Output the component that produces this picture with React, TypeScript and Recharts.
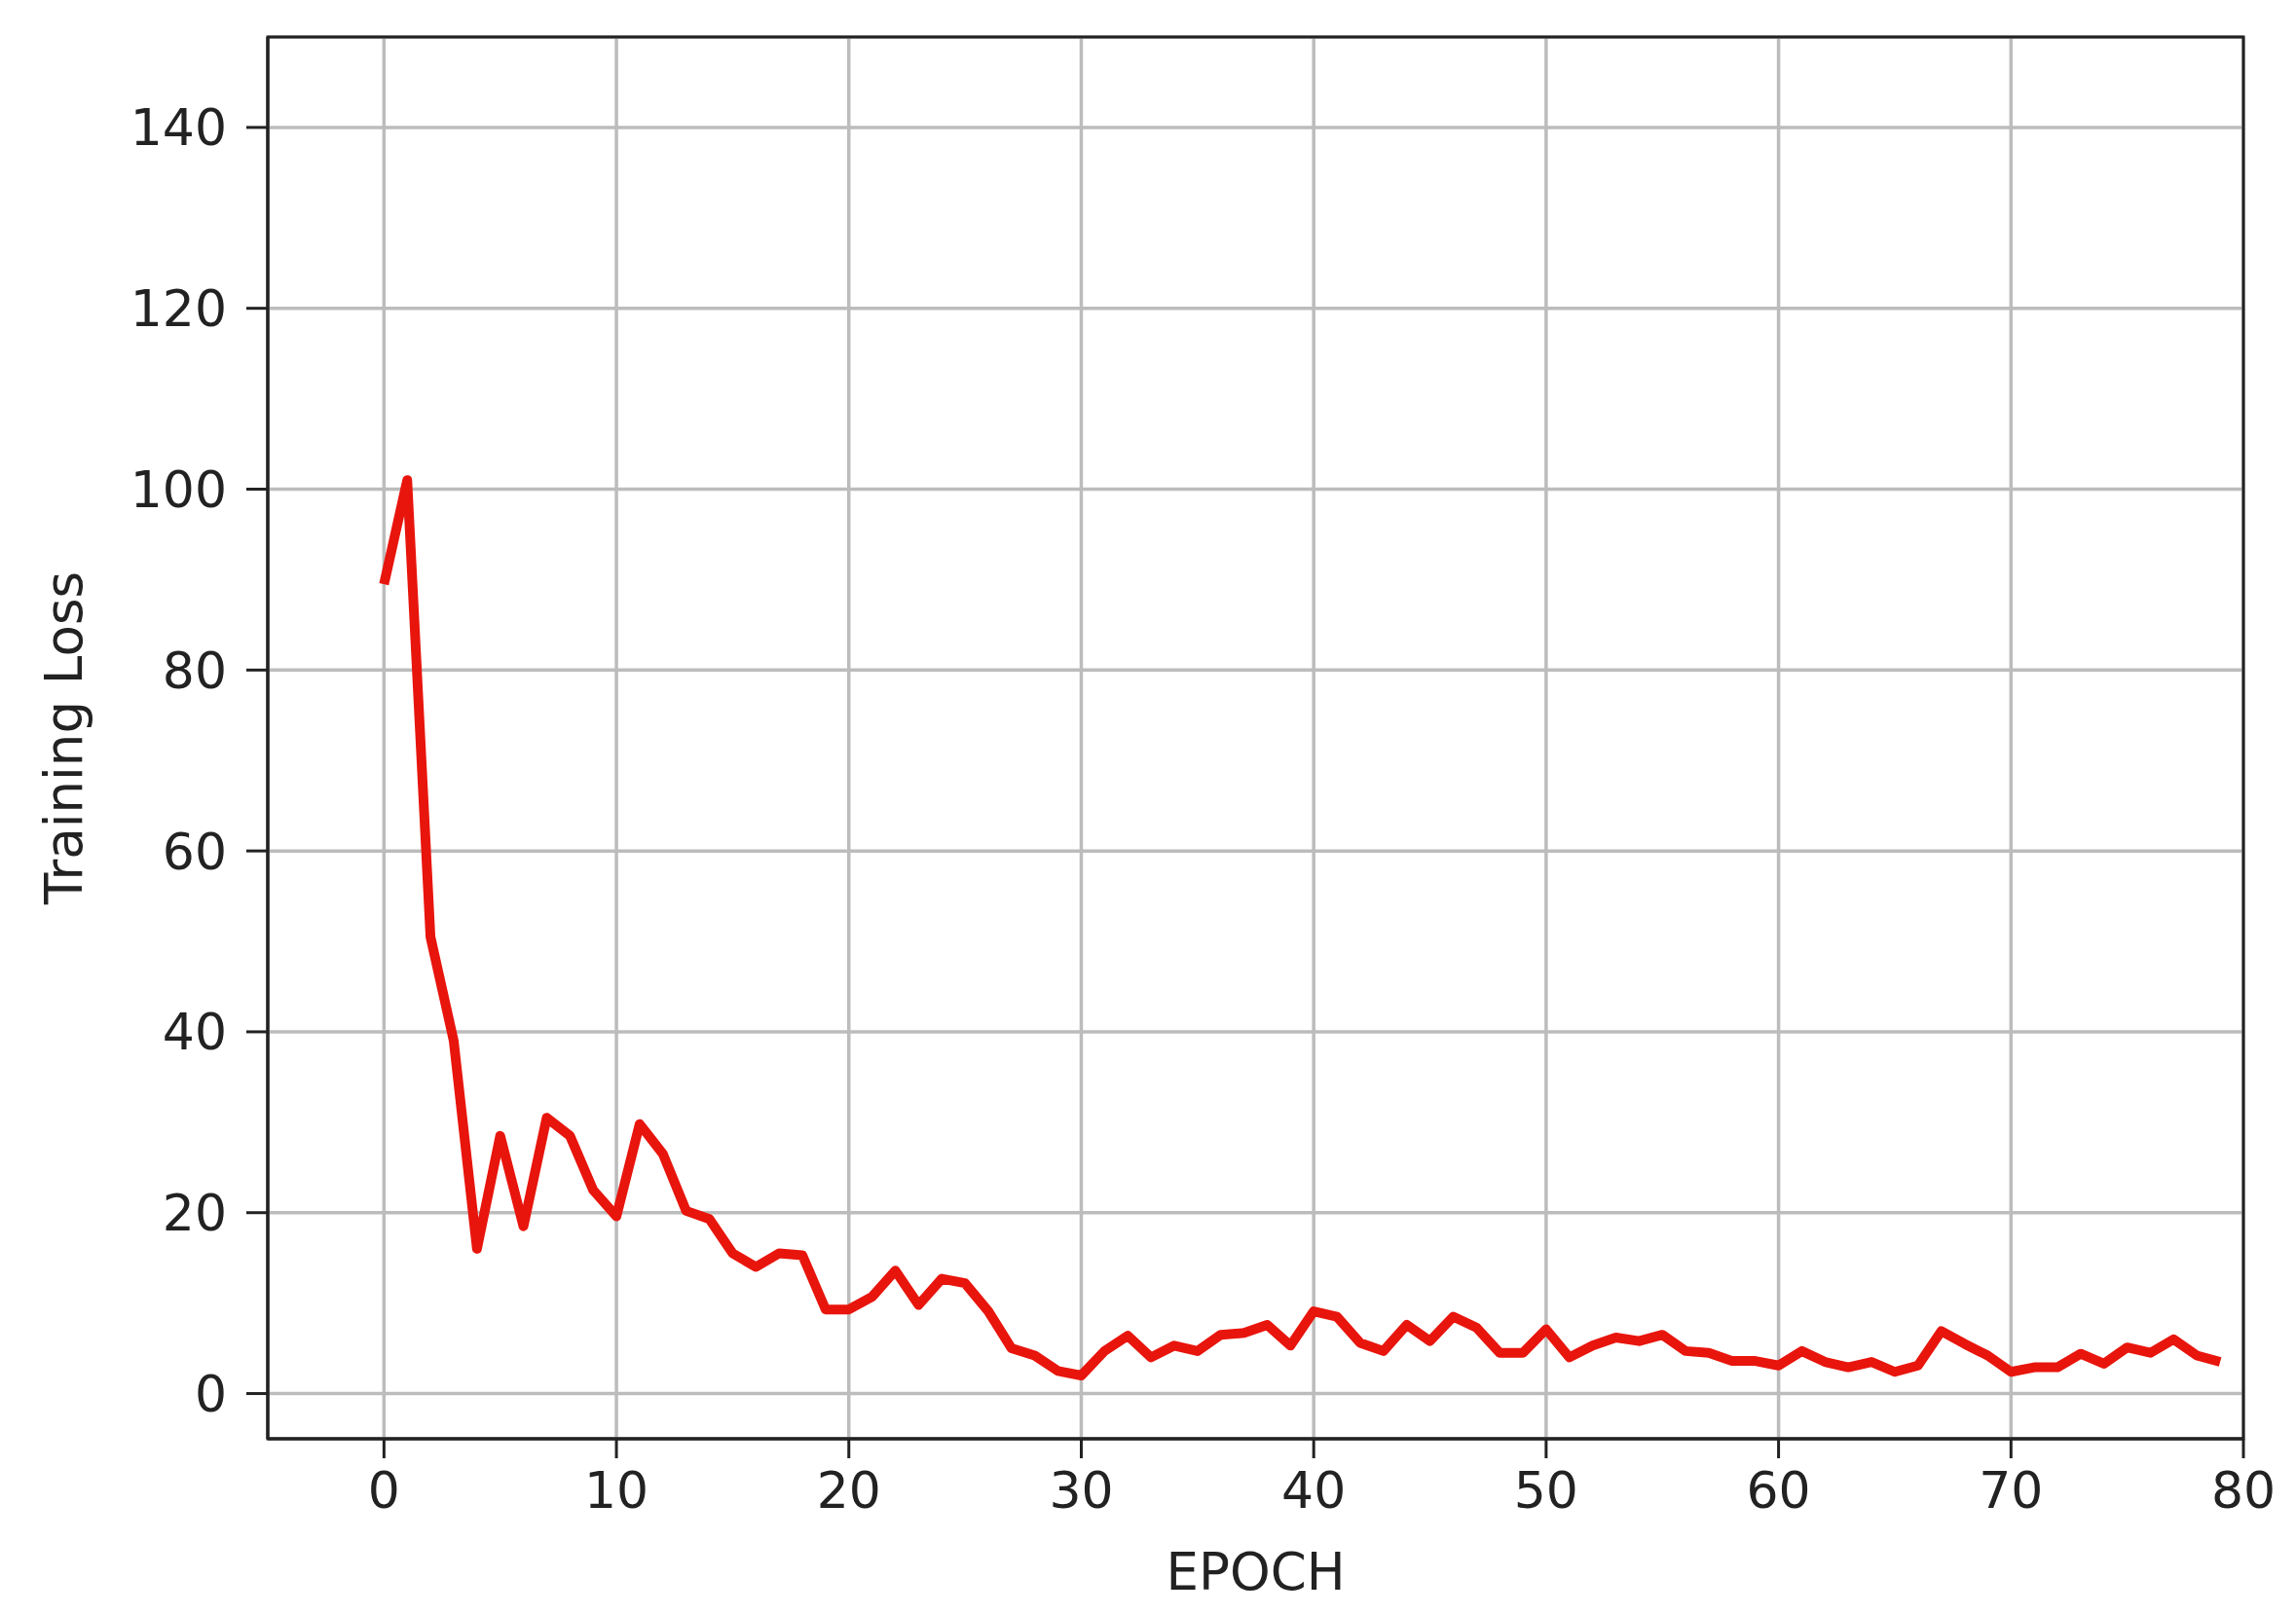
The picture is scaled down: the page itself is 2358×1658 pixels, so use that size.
import {
	CartesianGrid,
	Label,
	Line,
	LineChart,
	ReferenceArea,
	XAxis,
	YAxis,
} from "recharts";

const epochs = Array.from({ length: 80 }, (_, i) => i);

const trainingLoss = [
	89.5, 101, 50.5, 39, 16, 28.5, 18.5, 30.5, 28.5, 22.5,
	19.6, 29.8, 26.5, 20.2, 19.3, 15.5, 14, 15.5, 15.3, 9.3,
	9.3, 10.7, 13.6, 9.8, 12.7, 12.2, 9.1, 5, 4.2, 2.5,
	2, 4.7, 6.4, 4, 5.3, 4.7, 6.5, 6.7, 7.6, 5.3,
	9.1, 8.5, 5.6, 4.7, 7.6, 5.8, 8.5, 7.3, 4.5, 4.5,
	7.1, 4, 5.3, 6.2, 5.8, 6.5, 4.7, 4.5, 3.6, 3.6,
	3.1, 4.7, 3.5, 2.9, 3.5, 2.4, 3.1, 6.9, 5.5, 4.2,
	2.4, 2.9, 2.9, 4.4, 3.3, 5.1, 4.5, 6, 4.2, 3.5,
];

const xTicks = [0, 10, 20, 30, 40, 50, 60, 70, 80];
const yTicks = [0, 20, 40, 60, 80, 100, 120, 140];

const data = epochs.map((epoch, i) => ({ epoch, loss: trainingLoss[i] }));

const font = "'DejaVu Sans', sans-serif";
const ink = "#222222";

export default function App() {
	return (
		<div
			style={{
				position: "absolute",
				left: 0,
				top: 0,
				width: 2358,
				height: 1658,
				background: "#fff",
			}}
		>
			<LineChart
				width={2358}
				height={1658}
				data={data}
				margin={{ top: 38, right: 54, left: 0, bottom: 0 }}
			>
				<CartesianGrid stroke="#bcbcbc" strokeWidth={3.5} />
				<XAxis
					dataKey="epoch"
					type="number"
					domain={[-5, 80]}
					ticks={xTicks}
					allowDataOverflow
					height={180}
					tickSize={20}
					tickMargin={14}
					stroke={ink}
					strokeWidth={3}
					tick={{ fontSize: 52, fill: ink, fontFamily: font }}
				>
					<Label
						content={({ viewBox }: any) => (
							<text
								x={viewBox.x + viewBox.width / 2}
								y={viewBox.y + 136}
								textAnchor="middle"
								dominantBaseline="central"
								fontSize={53}
								fontFamily={font}
								fill={ink}
							>
								EPOCH
							</text>
						)}
					/>
				</XAxis>
				<YAxis
					type="number"
					domain={[-5, 150]}
					ticks={yTicks}
					allowDataOverflow
					width={275}
					tickSize={22}
					tickMargin={20}
					stroke={ink}
					strokeWidth={3}
					tick={{ fontSize: 52, fill: ink, fontFamily: font }}
				>
					<Label
						content={({ viewBox }: any) => {
							const cx = viewBox.x + 65;
							const cy = viewBox.y + viewBox.height / 2;
							return (
								<text
									x={cx}
									y={cy}
									textAnchor="middle"
									dominantBaseline="central"
									transform={`rotate(-90, ${cx}, ${cy})`}
									fontSize={53}
									fontFamily={font}
									fill={ink}
								>
									Training Loss
								</text>
							);
						}}
					/>
				</YAxis>
				<ReferenceArea
					x1={-5}
					x2={80}
					y1={-5}
					y2={150}
					fill="none"
					stroke={ink}
					strokeWidth={3}
					ifOverflow="visible"
				/>
				<Line
					type="linear"
					dataKey="loss"
					stroke="#e8150d"
					strokeWidth={10}
					strokeLinejoin="round"
					dot={false}
					isAnimationActive={false}
				/>
			</LineChart>
		</div>
	);
}
